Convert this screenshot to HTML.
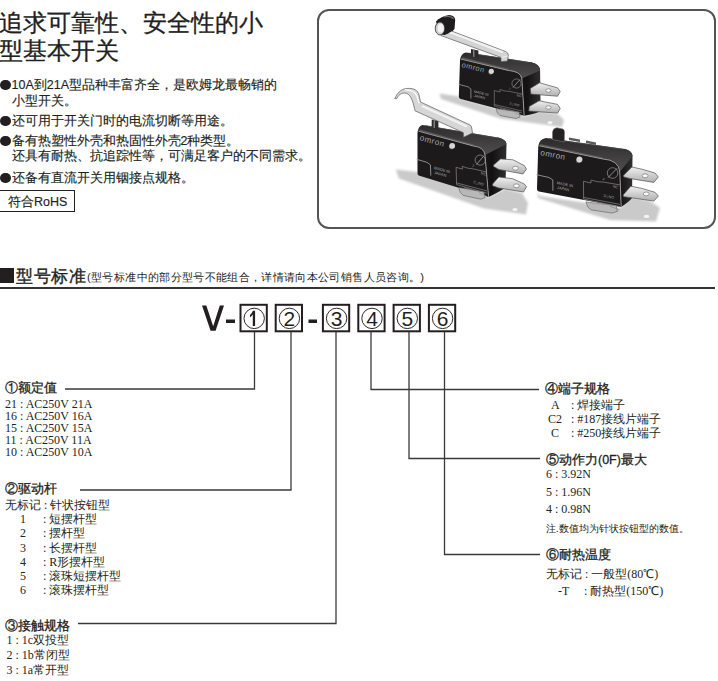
<!DOCTYPE html>
<html><head><meta charset="utf-8">
<style>
*{margin:0;padding:0;box-sizing:border-box}
html,body{width:718px;height:681px;background:#fff;overflow:hidden}
body{position:relative;font-family:"Liberation Sans",sans-serif;color:#231f20}
.a{position:absolute;white-space:nowrap}
.t1{font-size:24px;line-height:30px;-webkit-text-stroke:0.3px #231f20}
.b{font-size:12.5px;line-height:16px;-webkit-text-stroke:0.15px #231f20}
.dot{display:inline-block;width:10.5px;height:10.5px;border-radius:50%;background:#231f20;vertical-align:-1px;margin-right:1px}
.s{font-family:"Liberation Serif",serif;font-size:12px;line-height:14px}
.h{font-size:12.5px;line-height:14px;-webkit-text-stroke:0.3px #231f20}
.box{position:absolute;top:304px;width:28px;height:28px;border:2px solid #231f20;font-size:24px;line-height:24px;text-align:center}
</style></head><body>
<!-- top intro -->
<div class="a t1" style="left:-1px;top:8px">追求可靠性、安全性的小</div>
<div class="a t1" style="left:-1px;top:36px">型基本开关</div>
<div class="a b" style="left:0;top:77px"><span class="dot"></span>10A到21A型品种丰富齐全，是欧姆龙最畅销的</div>
<div class="a b" style="left:12px;top:93px">小型开关。</div>
<div class="a b" style="left:0;top:113px"><span class="dot"></span>还可用于开关门时的电流切断等用途。</div>
<div class="a b" style="left:0;top:133px"><span class="dot"></span>备有热塑性外壳和热固性外壳2种类型。</div>
<div class="a b" style="left:12px;top:148px">还具有耐热、抗追踪性等，可满足客户的不同需求。</div>
<div class="a b" style="left:0;top:170px"><span class="dot"></span>还备有直流开关用铟接点规格。</div>
<div class="a b" style="left:-2px;top:190px;width:77px;height:22px;border:1px solid #231f20;padding:3px 0 0 9px">符合RoHS</div>

<!-- photo frame -->
<div class="a" style="left:317px;top:9px;width:399px;height:220px;border:2px solid #555;border-radius:12px"></div>

<!-- photo -->
<svg class="a" style="left:0;top:0" width="718" height="681" font-family="Liberation Sans">
<defs>
<filter id="bl" x="-50%" y="-50%" width="200%" height="200%"><feGaussianBlur stdDeviation="3"/></filter>
<filter id="bl2" x="-50%" y="-50%" width="200%" height="200%"><feGaussianBlur stdDeviation="1.3"/></filter>
<linearGradient id="lev" x1="0" y1="0" x2="0" y2="1">
<stop offset="0" stop-color="#f4f4f4"/><stop offset="0.5" stop-color="#d6d6d6"/><stop offset="1" stop-color="#999"/></linearGradient>
<linearGradient id="tab" x1="0" y1="0" x2="0" y2="1">
<stop offset="0" stop-color="#f0f0f0"/><stop offset="1" stop-color="#b0b0b0"/></linearGradient>
<linearGradient id="topf" x1="0" y1="0" x2="0" y2="1">
<stop offset="0" stop-color="#2c2a2b"/><stop offset="1" stop-color="#504e4f"/></linearGradient>
<linearGradient id="rgt" x1="0" y1="0" x2="1" y2="0">
<stop offset="0" stop-color="#2a2829"/><stop offset="0.55" stop-color="#121011"/><stop offset="1" stop-color="#302e2f"/></linearGradient>
</defs>
<g fill="#cacaca" filter="url(#bl2)">
<polygon points="439.6,93.4 459,96.5 459,98 524,116 540,111 558,114 564,120 562,127 540,124 500,118.5 441,99"/>
<polygon points="395.7,169.5 418,172 488,197 505,189 522,193 528,203 526,214.5 484,208.5 399,178.5"/>
<polygon points="537,192 540,196 620,208 632,197 650,201 660,208 656,221.5 610,220 538,198"/>
</g>
<g fill="#f4f4f4">
<ellipse cx="550" cy="122.6" rx="2.6" ry="1.6"/>
<ellipse cx="515" cy="209.5" rx="2.6" ry="1.6"/>
<ellipse cx="646.6" cy="216.4" rx="2.8" ry="1.7"/>
</g>

<path d="M508.2,70.4 L531,62.2 Q540.1,64.2 540.1,70.4 L540.6,110.6 Q538.6,113.6 524.2,115.7 L521.8,78.5 Q520.8,71.4 508.2,70.4 Z" fill="url(#rgt)"/>
<path d="M460,59.8 Q461,53.5 465.9,52.5 L531,62.2 Q539.1,63.7 540.1,70.4 L521.8,78.5 Q520.8,71.4 508.2,70.4 Z" fill="url(#topf)"/>
<path d="M460,60.8 Q460,58.8 462,59.4 L508.2,70.4 Q520.8,71.4 521.8,78.5 L524.2,115.7 L460.8,99.1 Q458.8,98.5 458.8,96.5 Z" fill="#1c1a1b"/>
<path d="M462,58 L508.2,69.5" stroke="#5c5a5b" stroke-width="1.4"/>
<path d="M461,59.1 L508.2,70.4 Q520.8,71.4 521.8,78.5 L524.2,115.7" fill="none" stroke="#a0a0a0" stroke-width="0.9"/>
<path d="M468.9,53.1 L529,62.6" stroke="#4a4a4a" stroke-width="0.8"/>
<path d="M496,108.5 L497.5,113 L500,115.5 L516,118.5 L520,117 L519,112 Z" fill="#b8b8b8" stroke="#5a5a5a" stroke-width="0.6"/>
<polyline points="458.5,84.3 468,86.8 470.9,89 470.9,98.5" fill="none" stroke="#9a9a9a" stroke-width="0.8"/>
<polyline points="494.3,90.5 494.3,106 522,113" fill="none" stroke="#8a8a8a" stroke-width="0.6"/>
<polyline points="494.3,90.5 500,92 500,89.5 505,91 510,91.5 522,94" fill="none" stroke="#8a8a8a" stroke-width="0.6"/>
<polyline points="494.3,104.5 522,111" fill="none" stroke="#8a8a8a" stroke-width="0.6"/>
<polyline points="514.4,112.6 521.6,115.7" fill="none" stroke="#8a8a8a" stroke-width="0.6"/>
<circle cx="516.5" cy="83.5" r="4.6" fill="none" stroke="#8a8a8a" stroke-width="0.7"/>
<path d="M513,87.5 L520,79.5" stroke="#9a9a9a" stroke-width="0.8"/>
<text x="0" y="0" transform="translate(461.3,67) rotate(13.6) scale(1)" font-size="7.4" fill="#a8a8a8" letter-spacing="0.45">omron</text>
<text x="0" y="0" transform="translate(473.8,92.6) rotate(13.6) scale(1)" font-size="3.6" fill="#a8a8a8" letter-spacing="0">MADE IN</text>
<text x="0" y="0" transform="translate(473.8,96.8) rotate(13.6) scale(1)" font-size="3.6" fill="#a8a8a8" letter-spacing="0">JAPAN</text>
<text x="0" y="0" transform="translate(516.5,96.2) rotate(13.6) scale(1)" font-size="3.4" fill="#a8a8a8" letter-spacing="0">NC</text>
<text x="0" y="0" transform="translate(509.3,104.2) rotate(13.6) scale(1)" font-size="3.4" fill="#a8a8a8" letter-spacing="0">3⊥NO</text>
<text x="0" y="0" transform="translate(500,110.5) rotate(13.6) scale(1)" font-size="3.4" fill="#a8a8a8" letter-spacing="0">COM</text>
<text x="0" y="0" transform="translate(508.7,89.5) rotate(13.6) scale(1)" font-size="3" fill="#a8a8a8" letter-spacing="0">2</text>
<circle cx="490.5" cy="72.5" r="2.2" fill="#505050"/>
<circle cx="491.3" cy="71.3" r="2.6" fill="#d6d6d6"/>
<polygon points="530.3,88.4 539.6,82.8 557.6,87.9 560.2,91.5 557.6,96.2 530.9,94.1" fill="url(#tab)" stroke="#505050" stroke-width="0.7"/>
<ellipse cx="548.4" cy="90.5" rx="2.6" ry="1.7" fill="#fafafa" stroke="#666" stroke-width="0.6"/>
<polygon points="529.3,106.4 539.1,100.8 557.6,104.4 560.2,108.5 557.6,113.1 528.8,111" fill="url(#tab)" stroke="#505050" stroke-width="0.7"/>
<ellipse cx="548.4" cy="107.5" rx="2.6" ry="1.7" fill="#fafafa" stroke="#666" stroke-width="0.6"/>
<polygon points="471,49 478.4,50.5 478.4,58 471,56.5" fill="#2c2a2b"/>
<polygon points="473,49.3 474.5,49.6 474.5,57 473,56.7" fill="#808080"/>
<path d="M441,27 L505.5,51.5 Q508.5,52.8 508.3,55 L507.5,61 L501,61.7 L501,57.4 L441,35.6 Z" fill="#d4d4d4" stroke="#5a5a5a" stroke-width="0.7"/>
<path d="M444,30 L503,52.3" stroke="#f2f2f2" stroke-width="2.2"/>
<path d="M501.5,57.5 L507.8,56" stroke="#eeeeee" stroke-width="1"/>
<path d="M436,21.5 Q440,16.5 449,15 Q455,15.5 455.2,20 L454.5,29 Q453,31 444.8,35 L440,34.5 Z" fill="#1e1c1d"/>
<path d="M444,16.8 Q451,15.5 453.6,19" fill="none" stroke="#707070" stroke-width="1.2"/>
<ellipse cx="440" cy="28.5" rx="4.75" ry="6.5" fill="#cfcfcf" stroke="#2e2e2e" stroke-width="0.8"/>
<ellipse cx="440.6" cy="28.2" rx="3" ry="4.2" fill="#f4f4f4"/>

<path d="M473.5,146 L498,137.5 Q506.5,139.5 506.5,144 L505.5,187 Q503.5,190 488.6,196.9 L485,155 Q484,147 473.5,146 Z" fill="url(#rgt)"/>
<path d="M417.5,131.9 Q418.5,126 422.5,125 L498,137.5 Q505.5,139 506.5,144 L485,155 Q484,147 473.5,146 Z" fill="url(#topf)"/>
<path d="M417.5,132.9 Q417.5,130.9 419.5,131.5 L473.5,146 Q484,147 485,155 L488.6,196.9 L419.5,175.8 Q417.5,175.2 417.5,173.2 Z" fill="#1c1a1b"/>
<path d="M419.5,130.1 L473.5,145.1" stroke="#5c5a5b" stroke-width="1.4"/>
<path d="M418.5,131.2 L473.5,146 Q484,147 485,155 L488.6,196.9" fill="none" stroke="#a0a0a0" stroke-width="0.9"/>
<path d="M425.5,125.6 L496,137.9" stroke="#4a4a4a" stroke-width="0.8"/>
<path d="M458.6,187.4 L460.4,192.5 L463.2,195.4 L480.8,199.2 L485.1,197.6 L483.9,192 Z" fill="#b8b8b8" stroke="#5a5a5a" stroke-width="0.6"/>
<polyline points="416.7,159.3 427.2,162.4 430.4,164.9 430.8,175.6" fill="none" stroke="#9a9a9a" stroke-width="0.9"/>
<polyline points="456.1,167.3 456.6,184.6 487.2,193.2" fill="none" stroke="#8a8a8a" stroke-width="0.7"/>
<polyline points="456.1,167.3 462.4,169.1 462.3,166.3 467.8,168.2 473.3,168.9 486.6,172" fill="none" stroke="#8a8a8a" stroke-width="0.7"/>
<polyline points="456.6,182.9 487.1,191" fill="none" stroke="#8a8a8a" stroke-width="0.7"/>
<polyline points="478.9,192.6 486.8,196.2" fill="none" stroke="#8a8a8a" stroke-width="0.7"/>
<circle cx="480.2" cy="160.1" r="5.1" fill="none" stroke="#8a8a8a" stroke-width="0.8"/>
<path d="M476.5,164.5 L483.9,155.8" stroke="#9a9a9a" stroke-width="0.9"/>
<text x="0" y="0" transform="translate(419.2,140.1) rotate(15.1) scale(1.1)" font-size="7.4" fill="#a8a8a8" letter-spacing="0.45">omron</text>
<text x="0" y="0" transform="translate(433.7,169) rotate(15.1) scale(1.1)" font-size="3.6" fill="#a8a8a8" letter-spacing="0">MADE IN</text>
<text x="0" y="0" transform="translate(433.9,173.7) rotate(15.1) scale(1.1)" font-size="3.6" fill="#a8a8a8" letter-spacing="0">JAPAN</text>
<text x="0" y="0" transform="translate(480.6,174.3) rotate(15.1) scale(1.1)" font-size="3.4" fill="#a8a8a8" letter-spacing="0">NC</text>
<text x="0" y="0" transform="translate(473,183) rotate(15.1) scale(1.1)" font-size="3.4" fill="#a8a8a8" letter-spacing="0">3⊥NO</text>
<text x="0" y="0" transform="translate(463,189.8) rotate(15.1) scale(1.1)" font-size="3.4" fill="#a8a8a8" letter-spacing="0">COM</text>
<text x="0" y="0" transform="translate(471.9,166.6) rotate(15.1) scale(1.1)" font-size="3" fill="#a8a8a8" letter-spacing="0">2</text>
<circle cx="451.3" cy="147.1" r="2.5" fill="#505050"/>
<circle cx="452.2" cy="145.8" r="2.9" fill="#d6d6d6"/>
<polygon points="493.5,165.1 500.6,158.9 512.9,159.8 524.3,165.6 526.5,169.1 523,173.9 498.8,169.5 493.5,166.4" fill="url(#tab)" stroke="#505050" stroke-width="0.7"/>
<ellipse cx="515.5" cy="168.2" rx="2.9" ry="1.9" fill="#fafafa" stroke="#666" stroke-width="0.6"/>
<polygon points="492.6,184 498.8,177 512.9,178.8 524.3,184 526.5,186.7 523.5,192 498.8,188 492.6,185.8" fill="url(#tab)" stroke="#505050" stroke-width="0.7"/>
<ellipse cx="516.4" cy="185.8" rx="2.9" ry="1.9" fill="#fafafa" stroke="#666" stroke-width="0.6"/>
<polygon points="431.7,119.5 438.4,121 438.4,129 431.7,127.5" fill="#2c2a2b"/>
<polygon points="433.5,120 435,120.3 435,128 433.5,127.7" fill="#808080"/>
<path d="M394.7,98.8 C398,91 403,88.4 408,88.4 C414,88.4 418,90 419,95 L420.5,102 L469,124.5 Q471.5,125.5 471.5,127 L472.5,133 L463.5,137.3 L463.3,132.6 L415,110.8 C413.5,104 412,97 408,94 C403,91.5 399,94 396.8,98.5 Z" fill="#d6d6d6" stroke="#5a5a5a" stroke-width="0.7"/>
<path d="M405,89.6 Q414,89.5 417,96 L419,103" fill="none" stroke="#fafafa" stroke-width="1.3"/>
<path d="M422,106 L467,126.5" stroke="#f2f2f2" stroke-width="2.4"/>

<path d="M603,159 L625,149 Q632.5,151 632.5,156 L632,198 Q630,201 621.2,207 L619.8,172 Q618.8,160 603,159 Z" fill="url(#rgt)"/>
<path d="M538.2,146.5 Q539.2,139.1 545.9,138.1 L625,149 Q631.5,150.5 632.5,156 L619.8,172 Q618.8,160 603,159 Z" fill="url(#topf)"/>
<path d="M538.2,147.5 Q538.2,145.5 540.2,146.1 L603,159 Q618.8,160 619.8,172 L621.2,207 L539,191.6 Q537,191 537,189 Z" fill="#1c1a1b"/>
<path d="M540.2,144.7 L603,158.1" stroke="#5c5a5b" stroke-width="1.4"/>
<path d="M539.2,145.8 L603,159 Q618.8,160 619.8,172 L621.2,207" fill="none" stroke="#a0a0a0" stroke-width="0.9"/>
<path d="M548.9,138.7 L623,149.4" stroke="#4a4a4a" stroke-width="0.8"/>
<path d="M585.9,201.9 L587.9,207.1 L591.2,209.9 L612.2,213.1 L617.5,211.3 L616.1,205.6 Z" fill="#b8b8b8" stroke="#5a5a5a" stroke-width="0.6"/>
<polyline points="536.5,174.7 549,177.5 552.8,179.9 552.9,190.8" fill="none" stroke="#9a9a9a" stroke-width="0.9"/>
<polyline points="583.5,181.3 583.6,199.1 620.1,206.7" fill="none" stroke="#8a8a8a" stroke-width="0.7"/>
<polyline points="583.5,181.3 591,183 591,180.1 597.5,181.7 604.1,182.2 619.9,184.9" fill="none" stroke="#8a8a8a" stroke-width="0.7"/>
<polyline points="583.6,197.4 620,204.4" fill="none" stroke="#8a8a8a" stroke-width="0.7"/>
<polyline points="610.1,206.3 619.6,209.8" fill="none" stroke="#8a8a8a" stroke-width="0.7"/>
<circle cx="612.6" cy="173" r="5.3" fill="none" stroke="#8a8a8a" stroke-width="0.8"/>
<path d="M608,177.6 L617.1,168.3" stroke="#9a9a9a" stroke-width="0.9"/>
<text x="0" y="0" transform="translate(540,154.9) rotate(11.3) scale(1.1)" font-size="7.4" fill="#a8a8a8" letter-spacing="0.45">omron</text>
<text x="0" y="0" transform="translate(556.6,184) rotate(11.3) scale(1.1)" font-size="3.6" fill="#a8a8a8" letter-spacing="0">MADE IN</text>
<text x="0" y="0" transform="translate(556.7,188.8) rotate(11.3) scale(1.1)" font-size="3.6" fill="#a8a8a8" letter-spacing="0">JAPAN</text>
<text x="0" y="0" transform="translate(612.7,187.5) rotate(11.3) scale(1.1)" font-size="3.4" fill="#a8a8a8" letter-spacing="0">NC</text>
<text x="0" y="0" transform="translate(603.3,196.8) rotate(11.3) scale(1.1)" font-size="3.4" fill="#a8a8a8" letter-spacing="0">3⊥NO</text>
<text x="0" y="0" transform="translate(591.2,204.2) rotate(11.3) scale(1.1)" font-size="3.4" fill="#a8a8a8" letter-spacing="0">COM</text>
<text x="0" y="0" transform="translate(602.4,180) rotate(11.3) scale(1.1)" font-size="3" fill="#a8a8a8" letter-spacing="0">2</text>
<circle cx="578.5" cy="160.7" r="2.5" fill="#505050"/>
<circle cx="579.4" cy="159.4" r="3" fill="#d6d6d6"/>
<polygon points="623.7,175.2 631.9,167 641.8,169.2 655,173 658.3,176.9 653.9,182.4 629.7,178.5 623.7,176.9" fill="url(#tab)" stroke="#505050" stroke-width="0.7"/>
<ellipse cx="645.1" cy="175.8" rx="3" ry="1.9" fill="#fafafa" stroke="#666" stroke-width="0.6"/>
<polygon points="623.1,195 630.8,186.2 641.8,188.4 655,192.3 658.3,196.1 653.9,201.1 629.7,197.5 623.7,196.7" fill="url(#tab)" stroke="#505050" stroke-width="0.7"/>
<ellipse cx="646.2" cy="193.9" rx="3" ry="1.9" fill="#fafafa" stroke="#666" stroke-width="0.6"/>
<path d="M552.5,132 Q553,128 557,127.8 L563,129 Q564.5,130 564.5,132 L564.3,142 L552.5,139.5 Z" fill="#232122" stroke="#777" stroke-width="0.6"/>
<polygon points="569,137.5 580,139.5 580,142 569,140" fill="#5a5a5a"/>
<polygon points="586,140.5 596,142.5 596,145 586,143" fill="#5a5a5a"/>
</svg>

<!-- section heading -->
<div class="a" style="left:0;top:268px;width:14px;height:14.6px;background:#231f20"></div>
<div class="a" style="left:16px;top:265.5px;font-size:16.8px;line-height:22px;letter-spacing:0.7px;-webkit-text-stroke:0.35px #231f20">型号标准</div>
<div class="a" style="left:87px;top:269px;font-size:11.3px;line-height:16px;letter-spacing:0.35px">(型号标准中的部分型号不能组合，详情请向本公司销售人员咨询。)</div>
<div class="a" style="left:0;top:287px;width:715px;height:2px;background:#333"></div>

<!-- model code -->
<svg class="a" style="left:0;top:0" width="718" height="681">
<polygon fill="#231f20" points="202,305.6 206.3,305.6 213.2,326.3 219.8,305.6 224,305.6 215.6,330.8 210.6,330.8"/>
<rect x="226" y="319.5" width="9" height="3.5" fill="#231f20"/>
<rect x="308.5" y="319.5" width="8.5" height="3.5" fill="#231f20"/>
<g fill="none" stroke="#231f20" stroke-width="2">
<rect x="240.5" y="304.8" width="26.3" height="26.5"/>
<rect x="275.7" y="304.8" width="26.3" height="26.5"/>
<rect x="322.9" y="304.8" width="26.3" height="26.5"/>
<rect x="358.3" y="304.8" width="26.3" height="26.5"/>
<rect x="393.6" y="304.8" width="26.3" height="26.5"/>
<rect x="428.9" y="304.8" width="26.3" height="26.5"/>
</g>
<g fill="none" stroke="#231f20" stroke-width="0.95">
<circle cx="254.2" cy="318.4" r="10.2"/>
<circle cx="289.4" cy="318.4" r="10.2"/>
<circle cx="336.6" cy="318.4" r="10.2"/>
<circle cx="372" cy="318.4" r="10.2"/>
<circle cx="407.3" cy="318.4" r="10.2"/>
<circle cx="442.6" cy="318.4" r="10.2"/>
</g>
<g fill="#231f20" font-family="Liberation Sans" font-size="21" text-anchor="middle">
<path d="M252.9,310.8 L255.1,310.8 L255.1,326.1 L252.8,326.1 L252.8,314.4 Q251.8,316.2 250,317.2 L250,315 Q252,313.5 252.9,310.8 Z"/>
<text x="289.4" y="326.2">2</text>
<text x="336.6" y="326.2">3</text>
<text x="372" y="326.2">4</text>
<text x="407.3" y="326.2">5</text>
<text x="442.6" y="326.2">6</text>
</g>
<g stroke="#3a3a3a" stroke-width="1.3" fill="none">
<polyline points="254.5,332 254.5,389 65,389"/>
<polyline points="291,332 291,490 80,490"/>
<polyline points="336,332 336,623.5 78,623.5"/>
<polyline points="371,332 371,389.5 539,389.5"/>
<polyline points="409,332 409,458.5 540,458.5"/>
<polyline points="444.5,332 444.5,554.5 540,554.5"/>
</g>
</svg>

<!-- section 1 -->
<div class="a h" style="left:5px;top:381px">①额定值</div>
<div class="a s" style="left:5px;top:398px;line-height:12px">21 : AC250V 21A<br>16 : AC250V 16A<br>15 : AC250V 15A<br>11 : AC250V 11A<br>10 : AC250V 10A</div>

<!-- section 2 -->
<div class="a h" style="left:5px;top:482px">②驱动杆</div>
<div class="a s" style="left:5px;top:497.5px;line-height:14.2px">无标记 : 针状按钮型</div>
<div class="a s" style="left:20px;top:512px;line-height:14.3px">1<br>2<br>3<br>4<br>5<br>6</div>
<div class="a s" style="left:43px;top:512px;line-height:14.3px">: 短摆杆型<br>: 摆杆型<br>: 长摆杆型<br>: R形摆杆型<br>: 滚珠短摆杆型<br>: 滚珠摆杆型</div>

<!-- section 3 -->
<div class="a h" style="left:5px;top:619px">③接触规格</div>
<div class="a s" style="left:6.5px;top:633px;line-height:14.8px">1 : 1c双投型<br>2 : 1b常闭型<br>3 : 1a常开型</div>

<!-- section 4 -->
<div class="a h" style="left:545px;top:382px">④端子规格</div>
<div class="a s" style="left:548px;top:398px;line-height:14px">&nbsp;A<br>C2<br>&nbsp;C</div>
<div class="a s" style="left:571px;top:398px;line-height:14px">: 焊接端子<br>: #187接线片端子<br>: #250接线片端子</div>

<!-- section 5 -->
<div class="a h" style="left:546px;top:453px">⑤动作力(0F)最大</div>
<div class="a s" style="left:546px;top:465.6px;line-height:17.9px">6 : 3.92N<br>5 : 1.96N<br>4 : 0.98N</div>
<div class="a s" style="left:546px;top:522px;font-size:10px">注.数值均为针状按钮型的数值。</div>

<!-- section 6 -->
<div class="a h" style="left:546px;top:548px">⑥耐热温度</div>
<div class="a s" style="left:546px;top:566px;line-height:17.5px">无标记 : 一般型(80℃)</div>
<div class="a s" style="left:558px;top:583px;line-height:17.5px">-T</div>
<div class="a s" style="left:584px;top:583px;line-height:17.5px">: 耐热型(150℃)</div>
</body></html>
